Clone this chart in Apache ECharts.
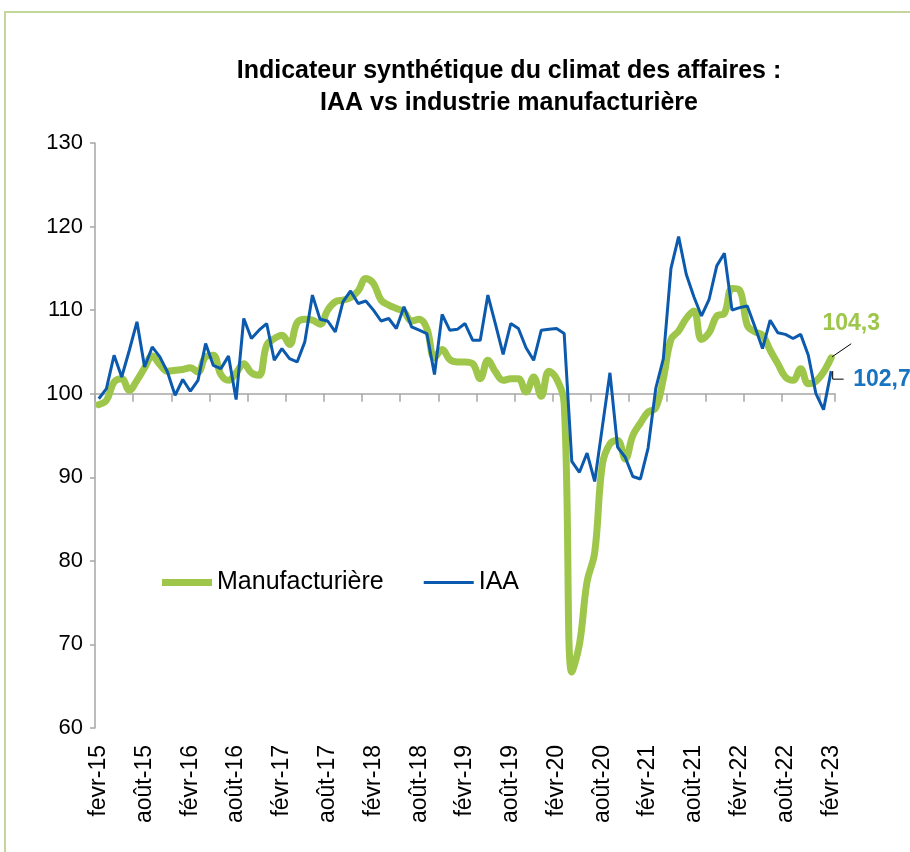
<!DOCTYPE html>
<html>
<head>
<meta charset="utf-8">
<title>Climat des affaires : IAA vs industrie manufacturière</title>
<style>
  * { margin: 0; padding: 0; }
  body { background: #fff; }
  #main { width: 910px; height: 852px; }
</style>
</head>
<body>
<div id="main"></div>
<script src="https://cdn.jsdelivr.net/npm/echarts@6/dist/echarts.min.js"></script>
<script>
// mois de févr-15 à févr-23 (97 points)
var moisNoms = ['janv', 'févr', 'mars', 'avr', 'mai', 'juin', 'juil', 'août', 'sept', 'oct', 'nov', 'déc'];
var categories = [];
for (var k = 0; k < 97; k++) {
  var m = (1 + k) % 12;
  var an = 15 + Math.floor((1 + k) / 12);
  categories.push(moisNoms[m] + '-' + an);
}
categories[0] = 'fevr-15'; // tel quel sur le graphique d'origine

var yTicks = [60, 70, 80, 90, 100, 110, 120, 130];

// Manufacturière (courbe verte lissée)
var manuf = [98.7, 99.2, 101.4, 101.8, 100.4, 101.6, 103.1, 104.5, 103.5, 102.7, 102.8, 102.9, 103.1, 102.6, 104.4, 104.6, 102.3, 101.6, 102.5, 103.6, 102.5,
  102.2, 105.8, 106.6, 107.0, 105.9, 108.5, 108.9, 108.8, 108.3, 110.0, 111.0, 111.2, 111.5, 112.3, 113.8, 113.2, 111.2, 110.6, 110.2, 109.8, 108.7,
  108.9, 107.8, 104.3, 105.3, 104.1, 103.8, 103.8, 103.6, 101.8, 104.0, 102.6, 101.6, 101.8, 101.8, 100.2, 102.0, 99.7, 102.7, 101.8, 98.8,
  66.7, 70.0, 77.5, 81.0, 91.5, 94.0, 94.4, 92.2, 95.0, 96.5, 97.8, 98.3, 101.8, 106.5, 107.5, 109.0, 109.9, 106.5, 107.3, 109.3,
  109.6, 112.6, 112.4, 108.2, 107.4, 107.0, 105.2, 103.6, 102.0, 101.6, 103.0, 101.2, 101.5, 102.6, 104.3];

// IAA (courbe bleue)
var iaa = [99.4, 100.6, 104.6, 102.0, 105.2, 108.6, 103.2, 105.6, 104.4, 102.6, 99.8, 101.7, 100.3, 101.6, 106.0, 103.4, 103.0, 104.5, 99.3, 109.0, 106.6,
  107.6, 108.4, 104.0, 105.4, 104.2, 103.8, 106.2, 111.8, 108.9, 108.7, 107.4, 111.0, 112.3, 110.8, 111.1, 110.0, 108.7, 109.0, 107.8, 110.4,
  108.0, 107.6, 107.2, 102.3, 109.5, 107.6, 107.7, 108.4, 106.4, 106.4, 111.8, 108.3, 104.7, 108.4, 107.8, 105.5, 104.0, 107.6, 107.7, 107.8,
  107.2, 91.9, 90.6, 92.9, 89.5, 96.0, 102.5, 93.6, 92.4, 90.1, 89.8, 93.5, 100.6, 104.2, 115.0, 118.8, 114.3, 111.6, 109.3, 111.3,
  115.3, 116.8, 110.0, 110.3, 110.5, 108.0, 105.4, 108.8, 107.3, 107.1, 106.6, 107.1, 104.6, 100.0, 98.1, 102.7];

var VERT = '#9dc64a';
var BLEU = '#0b5aad';
var BLEU_TXT = '#1874bf';
var FONT = 'Liberation Sans';

var chart = echarts.init(document.getElementById('main'));
var option = {
  backgroundColor: '#fff',
  animation: false,
  title: {
    text: 'Indicateur synthétique du climat des affaires :\nIAA vs industrie manufacturière',
    left: 504,
    top: 50,
    textAlign: 'center',
    textStyle: { fontFamily: FONT, fontSize: 25, fontWeight: 'bold', color: '#000', lineHeight: 32 }
  },
  legend: {
    left: 157,
    top: 565,
    itemWidth: 50,
    itemHeight: 14,
    itemGap: 40,
    textStyle: { fontFamily: FONT, fontSize: 25, color: '#000' },
    data: [
      { name: 'Manufacturière', icon: 'path://M0,0L50,0L50,7L0,7Z', itemStyle: { color: VERT } },
      { name: 'IAA', icon: 'path://M0,0L50,0L50,3L0,3Z', itemStyle: { color: BLEU } }
    ]
  },
  grid: { left: 95, right: 75, top: 143, bottom: 124, outerBoundsMode: 'none' },
  xAxis: [{
    type: 'category',
    data: categories,
    boundaryGap: true,
    axisLine: { show: false },
    axisTick: { show: false },
    axisLabel: {
      interval: 5,
      rotate: 90,
      margin: 17,
      fontFamily: FONT,
      fontSize: 23,
      color: '#000'
    }
  }, {
    type: 'category',
    data: categories,
    boundaryGap: true,
    position: 'bottom',
    offset: -334.3,
    axisLine: { show: true, lineStyle: { color: '#a6a6a6', width: 1.5 } },
    axisTick: { show: true, interval: 4, length: 8, lineStyle: { color: '#a6a6a6', width: 1.5 } },
    axisLabel: { show: false }
  }],
  yAxis: {
    type: 'value',
    min: yTicks[0],
    max: yTicks[yTicks.length - 1],
    interval: 10,
    splitLine: { show: false },
    axisLine: { show: true, lineStyle: { color: '#a6a6a6', width: 1.5 } },
    axisTick: { show: true, length: 5, lineStyle: { color: '#a6a6a6', width: 1.5 } },
    axisLabel: { margin: 12, fontFamily: FONT, fontSize: 22, color: '#000' }
  },
  series: [{
    name: 'Manufacturière',
    type: 'line',
    xAxisIndex: 0,
    data: manuf,
    smooth: 0.4,
    symbol: 'none',
    showSymbol: false,
    lineStyle: { color: VERT, width: 7, cap: 'round', join: 'round' },
    itemStyle: { color: VERT },
    z: 2
  }, {
    name: 'IAA',
    type: 'line',
    xAxisIndex: 0,
    data: iaa,
    symbol: 'none',
    showSymbol: false,
    lineStyle: { color: BLEU, width: 3 },
    itemStyle: { color: BLEU },
    z: 3
  }]
};
chart.setOption(option);

// étiquettes des dernières valeurs, placées depuis les points calculés par l'axe
var n = manuf.length - 1;
var pG = chart.convertToPixel({ seriesIndex: 0 }, [n, manuf[n]]);
var pB = chart.convertToPixel({ seriesIndex: 1 }, [n, iaa[n]]);
function virgule(v) { return String(v).replace('.', ','); }

chart.setOption({
  graphic: [{
    type: 'rect',
    shape: { x: 5, y: 12, width: 1000, height: 1000 },
    style: { fill: 'none', stroke: '#c3d69b', lineWidth: 2 },
    silent: true
  }, {
    type: 'polyline',
    shape: { points: [[pG[0] + 1, pG[1] - 1], [pG[0] + 20, pG[1] - 14]] },
    style: { stroke: '#000', lineWidth: 1, fill: 'none' },
    z: 10
  }, {
    type: 'text',
    x: pG[0] + 20,
    y: pG[1] - 34,
    style: {
      text: virgule(manuf[n]), fill: VERT, font: 'bold 23px "Liberation Sans"',
      textAlign: 'center', textVerticalAlign: 'middle'
    },
    z: 10
  }, {
    type: 'polyline',
    shape: { points: [[pB[0] + 1.5, pB[1]], [pB[0] + 1.5, pB[1] + 8], [pB[0] + 12.5, pB[1] + 8]] },
    style: { stroke: '#000', lineWidth: 1, fill: 'none' },
    z: 10
  }, {
    type: 'text',
    x: pB[0] + 22,
    y: pB[1] + 9,
    style: {
      text: virgule(iaa[n]), fill: BLEU_TXT, font: 'bold 23px "Liberation Sans"',
      textAlign: 'left', textVerticalAlign: 'middle'
    },
    z: 10
  }]
});
</script>
</body>
</html>
